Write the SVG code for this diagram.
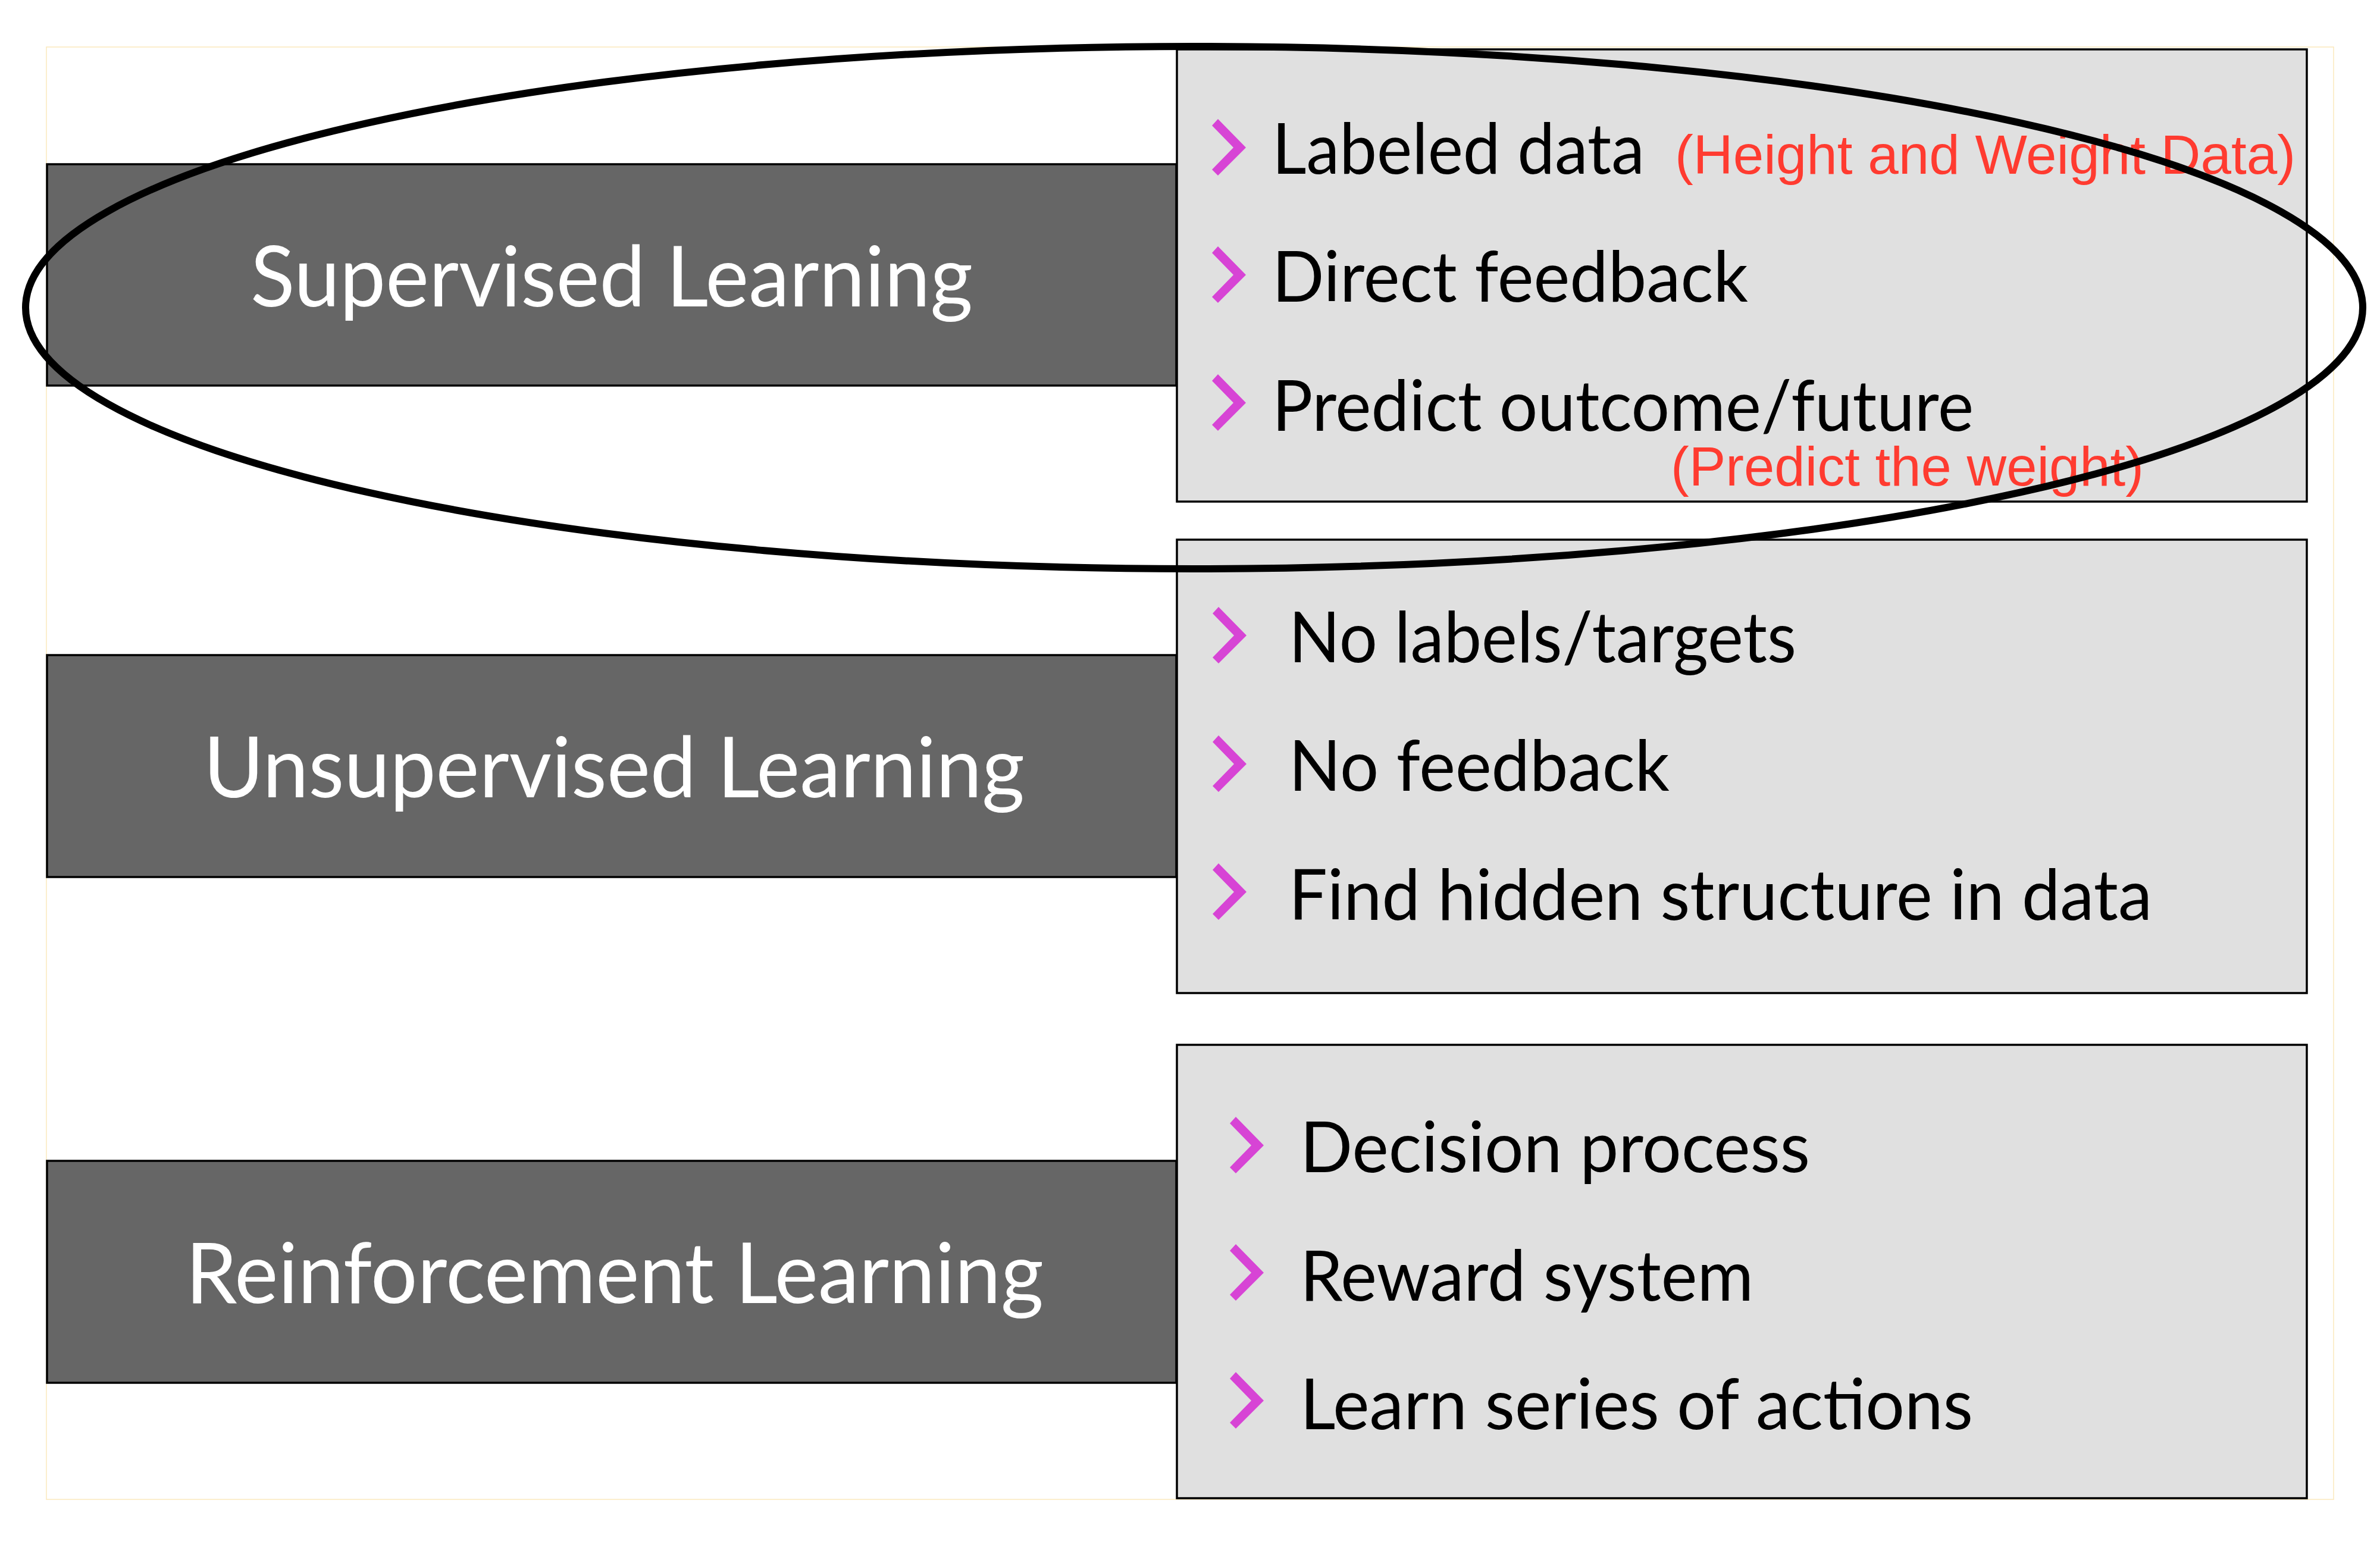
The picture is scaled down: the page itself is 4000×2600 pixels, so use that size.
<svg xmlns="http://www.w3.org/2000/svg" xmlns:xlink="http://www.w3.org/1999/xlink" width="4000" height="2600" viewBox="0 0 4000 2600">
<style>
.frame{fill:#ffffff;stroke:#fbe9bd;stroke-width:1.5}
.dark{fill:#666666;stroke:#000000;stroke-width:3.5}
.light{fill:#e0e0e0;stroke:#000000;stroke-width:3.5}
.title{font-family:Lato,"Noto Sans",sans-serif;font-size:141px;fill:#ffffff}
.item{font-family:Lato,"Noto Sans",sans-serif;font-size:118px;fill:#000000}
.note{font-family:"Liberation Sans",Arial,sans-serif;font-size:92px;fill:#ff3b30}
.chev{fill:#d744d5}
.ring{fill:none;stroke:#000000;stroke-width:12}
</style>
<defs>
<path id="chev" d="M10,0 L57,48 L10,95 L0,85 L36,48 L0,11 Z"/>
</defs>
<rect x="0" y="0" width="4000" height="2600" fill="#ffffff"/>
<rect class="frame" x="78" y="79" width="3844" height="2441"/>

<g id="supervised">
<rect class="dark" x="79" y="276" width="1898" height="372"/>
<text class="title" x="421" y="515" textLength="1214" lengthAdjust="spacingAndGlyphs">Supervised Learning</text>
</g>
<g id="unsupervised">
<rect class="dark" x="79" y="1101" width="1898" height="373"/>
<text class="title" x="342" y="1340" textLength="1380" lengthAdjust="spacingAndGlyphs">Unsupervised Learning</text>
</g>
<g id="reinforcement">
<rect class="dark" x="79" y="1951" width="1898" height="373"/>
<text class="title" x="312" y="2190" textLength="1442" lengthAdjust="spacingAndGlyphs">Reinforcement Learning</text>
</g>

<g id="supervised-details">
<rect class="light" x="1978" y="83" width="1899" height="760"/>
<use class="chev" xlink:href="#chev" href="#chev" x="2037" y="200"/>
<text class="item" x="2138" y="292" textLength="626" lengthAdjust="spacingAndGlyphs">Labeled data</text>
<text class="note" x="2815" y="292" textLength="1043" lengthAdjust="spacingAndGlyphs">(Height and Weight Data)</text>
<use class="chev" xlink:href="#chev" href="#chev" x="2037" y="414"/>
<text class="item" x="2138" y="507" textLength="800" lengthAdjust="spacingAndGlyphs">Direct feedback</text>
<use class="chev" xlink:href="#chev" href="#chev" x="2037" y="629"/>
<text class="item" x="2138" y="724" textLength="1179" lengthAdjust="spacingAndGlyphs">Predict outcome/future</text>
<text class="note" x="2808" y="816" textLength="795" lengthAdjust="spacingAndGlyphs">(Predict the weight)</text>
</g>

<g id="unsupervised-details">
<rect class="light" x="1978" y="907" width="1899" height="762"/>
<use class="chev" xlink:href="#chev" href="#chev" x="2038" y="1020"/>
<text class="item" x="2166" y="1113" textLength="853" lengthAdjust="spacingAndGlyphs">No labels/targets</text>
<use class="chev" xlink:href="#chev" href="#chev" x="2038" y="1236"/>
<text class="item" x="2166" y="1329" textLength="640" lengthAdjust="spacingAndGlyphs">No feedback</text>
<use class="chev" xlink:href="#chev" href="#chev" x="2038" y="1451"/>
<text class="item" x="2166" y="1546" textLength="1451" lengthAdjust="spacingAndGlyphs">Find hidden structure in data</text>
</g>

<g id="reinforcement-details">
<rect class="light" x="1978" y="1756" width="1899" height="762"/>
<use class="chev" xlink:href="#chev" href="#chev" x="2067" y="1877"/>
<text class="item" x="2185" y="1970" textLength="857" lengthAdjust="spacingAndGlyphs">Decision process</text>
<use class="chev" xlink:href="#chev" href="#chev" x="2067" y="2091"/>
<text class="item" x="2185" y="2186" textLength="762" lengthAdjust="spacingAndGlyphs">Reward system</text>
<use class="chev" xlink:href="#chev" href="#chev" x="2067" y="2306"/>
<text class="item" x="2185" y="2402" textLength="1131" lengthAdjust="spacingAndGlyphs">Learn series of actions</text>
</g>

<g id="connectors">
<ellipse id="highlight" class="ring" cx="2007" cy="517" rx="1964" ry="439"/>
</g>
</svg>
